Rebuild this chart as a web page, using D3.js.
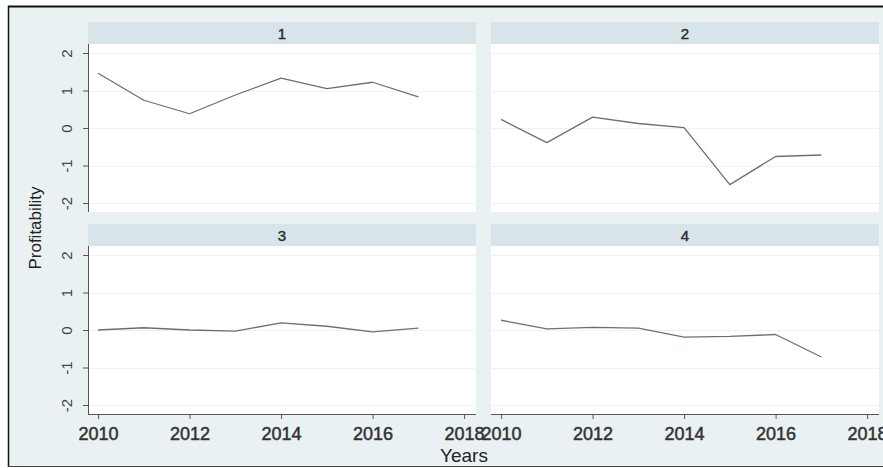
<!DOCTYPE html>
<html>
<head>
<meta charset="utf-8">
<script src="https://cdn.jsdelivr.net/npm/d3@7"></script>
<style>
  html, body { margin: 0; padding: 0; background: #ffffff; }
  svg { display: block; font-family: "Liberation Sans", Arial, sans-serif; }
</style>
</head>
<body>
<svg id="chart" width="883" height="468"></svg>
<script>
// Profitability by group, 2010-2017
const years = [2010, 2011, 2012, 2013, 2014, 2015, 2016, 2017];
const groups = ["1", "2", "3", "4"];
const group1 = [1.46, 0.74, 0.38, 0.88, 1.33, 1.05, 1.22, 0.83];
const group2 = [0.23, -0.39, 0.29, 0.12, 0.01, -1.51, -0.76, -0.72];
const group3 = [0.0, 0.06, 0.0, -0.03, 0.19, 0.10, -0.05, 0.05];
const group4 = [0.26, 0.03, 0.07, 0.05, -0.19, -0.17, -0.12, -0.72];
const xTicks = [2010, 2012, 2014, 2016, 2018];
const yTicks = [-2, -1, 0, 1, 2];

const seriesByGroup = [group1, group2, group3, group4];

const svg = d3.select("#chart");

// graph frame and background
svg.append("rect").attr("x", 8).attr("y", 6).attr("width", 885).attr("height", 460)
  .attr("fill", "#eaf1f3");
svg.append("line").attr("x1", 8).attr("x2", 883).attr("y1", 6.5).attr("y2", 6.5)
  .attr("stroke", "#111").attr("stroke-width", 2);
svg.append("line").attr("x1", 8.5).attr("x2", 8.5).attr("y1", 6).attr("y2", 467)
  .attr("stroke", "#111").attr("stroke-width", 1.5);
svg.append("line").attr("x1", 8).attr("x2", 883).attr("y1", 466.5).attr("y2", 466.5)
  .attr("stroke", "#444").attr("stroke-width", 1);

// panel layout
const colX = [88, 491];
const panelW = 388;
const rowStrip = [22, 224];
const stripH = 22;
const plotH = 168;

const x = d3.scaleLinear().domain([2009.78, 2018.26]).range([0, panelW]);
const y = d3.scaleLinear().domain([-2.24, 2.24]).range([plotH, 0]);

const line = d3.line().x((d, i) => x(years[i])).y(d => y(d));
const plainInt = d => String(d); // ASCII hyphen for negatives

groups.forEach((g, k) => {
  const col = k % 2, row = Math.floor(k / 2);
  const left = colX[col];
  const stripTop = rowStrip[row];
  const top = stripTop + stripH;

  // strip title
  svg.append("rect").attr("x", left).attr("y", stripTop).attr("width", panelW).attr("height", stripH)
    .attr("fill", "#d7e4ea");
  svg.append("text").attr("x", left + panelW / 2).attr("y", stripTop + stripH / 2 + 5.5)
    .attr("text-anchor", "middle").attr("font-size", 15)
    .attr("fill", "#2a2a2a").attr("stroke", "#2a2a2a").attr("stroke-width", 0.4).text(g);

  const p = svg.append("g").attr("transform", `translate(${left},${top})`);

  // plot region
  p.append("rect").attr("width", panelW).attr("height", plotH).attr("fill", "#ffffff");

  // horizontal grid
  p.selectAll("line.grid").data(yTicks).join("line").attr("class", "grid")
    .attr("x1", 0).attr("x2", panelW)
    .attr("y1", d => Math.round(y(d)) + 0.5).attr("y2", d => Math.round(y(d)) + 0.5)
    .attr("stroke", "#edf3f5").attr("stroke-width", 1.2);

  // y axis on the left column
  if (col === 0) {
    const ay = p.append("g").call(d3.axisLeft(y).tickValues(yTicks).tickSize(5).tickPadding(4)
      .tickFormat(plainInt));
    ay.select(".domain").attr("stroke", "#555").attr("d", `M0.5,0V${plotH}`);
    ay.selectAll(".tick line").attr("stroke", "#555");
    ay.selectAll(".tick text")
      .attr("font-size", 15).attr("fill", "#444")
      .attr("text-anchor", "middle")
      .attr("transform", "rotate(-90)")
      .attr("x", 0).attr("y", -16).attr("dy", 0);
  }

  // x axis on the bottom row
  if (row === 1) {
    const ax = p.append("g").attr("transform", `translate(0,${plotH})`)
      .call(d3.axisBottom(x).tickValues(xTicks).tickSize(5).tickPadding(8).tickFormat(plainInt));
    ax.select(".domain").attr("stroke", "#555").attr("d", `M0,0.5H${panelW}`);
    ax.selectAll(".tick line").attr("stroke", "#555");
    ax.selectAll(".tick text").attr("font-size", 18).attr("fill", "#333")
      .attr("stroke", "#333").attr("stroke-width", 0.5);
  }

  // series line
  p.append("path").datum(seriesByGroup[k]).attr("d", line)
    .attr("fill", "none").attr("stroke", "#66707c").attr("stroke-width", 1.3)
    .attr("stroke-linejoin", "round");
});

// axis titles
svg.append("text").attr("transform", "translate(41,228) rotate(-90)")
  .attr("text-anchor", "middle").attr("font-size", 17).attr("fill", "#222")
  .text("Profitability");
svg.append("text").attr("x", 464).attr("y", 462)
  .attr("text-anchor", "middle").attr("font-size", 19).attr("fill", "#222")
  .text("Years");
</script>
</body>
</html>
